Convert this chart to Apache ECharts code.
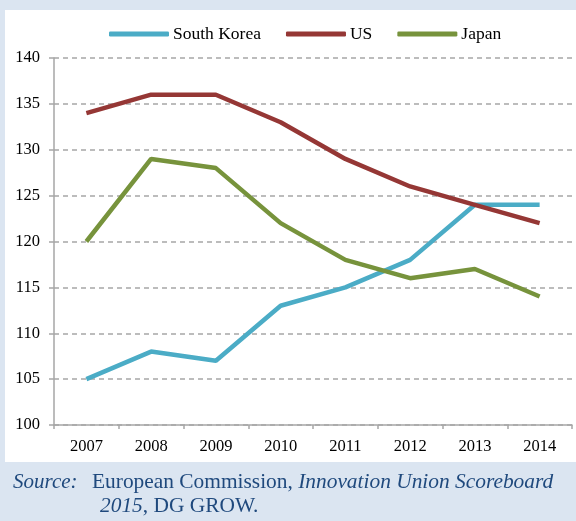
<!DOCTYPE html>
<html><head><meta charset="utf-8">
<script src="https://cdn.jsdelivr.net/npm/echarts@6/dist/echarts.min.js"></script>
<style>html,body{margin:0;padding:0;background:#fff}#c{width:576px;height:521px}</style>
</head><body><div id="c"></div>
<script>
var years = ['2007','2008','2009','2010','2011','2012','2013','2014'];
var southKorea = [105,108,107,113,115,118,124,124];
var us = [134,136,136,133,129,126,124,122];
var japan = [120,129,128,122,118,116,117,114];
var yTicks = {min:100, max:140, interval:5};

var chart = echarts.init(document.getElementById('c'));
var serif = '"Liberation Serif","Times New Roman",serif';
var band = '#dbe5f1';
var src = '#1f497d';
function line(name, data, color){
  return {name:name, type:'line', data:data, symbol:'none', smooth:false,
    lineStyle:{color:color, width:4.5}, itemStyle:{color:color}};
}
var it = {fontFamily:serif, fontStyle:'italic', fontSize:21.4, fill:src};
var nm = {fontFamily:serif, fontSize:21.4, fill:src};
chart.setOption({
  backgroundColor:'#fff',
  animation:false,
  graphic:[
    {type:'rect', shape:{x:0,y:0,width:576,height:10}, style:{fill:band}, z:-1},
    {type:'rect', shape:{x:0,y:0,width:5,height:521}, style:{fill:band}, z:-1},
    {type:'rect', shape:{x:0,y:462,width:576,height:59}, style:{fill:band}, z:-1},
    {type:'text', style:{x:13, y:482, verticalAlign:'middle', text:'Source:', font:'italic 21px ' + serif, fill:src}},
    {type:'text', style:{x:92, y:482, verticalAlign:'middle',
      text:'{n|European Commission, }{i|Innovation Union Scoreboard}', rich:{i:it, n:nm}}},
    {type:'text', style:{x:100, y:506, verticalAlign:'middle',
      text:'{i|2015}{n|, DG GROW.}', rich:{i:it, n:nm}}}
  ],
  legend:{top:20, left:104, itemWidth:60, itemHeight:5, itemGap:25,
    icon:'roundRect',
    textStyle:{fontFamily:serif, fontSize:17.5, color:'#000', padding:[0,0,0,-1]},
    data:['South Korea','US','Japan']},
  grid:{left:54, right:4, top:58, bottom:96, containLabel:false},
  xAxis:{type:'category', data:years, boundaryGap:true,
    axisLine:{lineStyle:{color:'#a6a6a6', width:1.5}},
    axisTick:{show:true, length:4, lineStyle:{color:'#a6a6a6', width:1.5}},
    axisLabel:{fontFamily:serif, fontSize:16.5, color:'#000', margin:13},
    splitLine:{show:false}},
  yAxis:{type:'value', min:yTicks.min, max:yTicks.max, interval:yTicks.interval,
    axisLine:{show:true, lineStyle:{color:'#a6a6a6', width:1.5}},
    axisTick:{show:true, length:5, lineStyle:{color:'#a6a6a6', width:1.5}},
    axisLabel:{fontFamily:serif, fontSize:16.5, color:'#000', margin:14},
    splitLine:{show:true, lineStyle:{color:'#a6a6a6', type:[5,4], width:1.5}}},
  series:[line('South Korea', southKorea, '#4bacc6'), line('US', us, '#953735'), line('Japan', japan, '#77933c')]
});
</script></body></html>
